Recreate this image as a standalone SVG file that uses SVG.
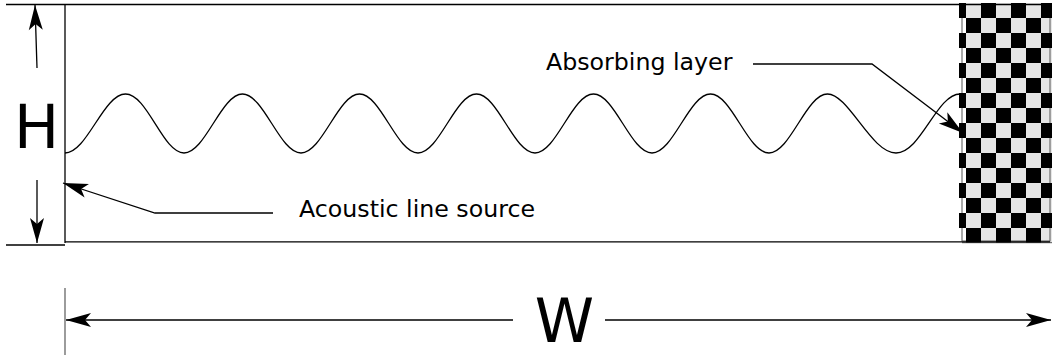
<svg xmlns="http://www.w3.org/2000/svg" width="1052" height="356" viewBox="0 0 1052 356">
<style>
.ln{fill:none;stroke:#000;stroke-width:1.3}
.gl{fill:none;stroke:#555;stroke-width:1}
.lbl{font-family:"DejaVu Sans","Liberation Sans",sans-serif;font-size:23.7px;fill:#000}
.big{font-family:"DejaVu Sans","Liberation Sans",sans-serif;font-size:60px;fill:#000;text-anchor:middle}
</style>
<defs>
<marker id="ah" viewBox="-26 -8 27 16" refX="0" refY="0" markerWidth="27" markerHeight="16" markerUnits="userSpaceOnUse" orient="auto">
<path d="M0,0 L-25,-7 L-19,0 L-25,7 Z" fill="#000"/>
</marker>
<pattern id="chk" patternUnits="userSpaceOnUse" x="951" y="3" width="30" height="30">
<rect x="0" y="0" width="15" height="15" fill="#000"/>
<rect x="15" y="15" width="15" height="15" fill="#000"/>
</pattern>
</defs>
<g id="absorbing-layer">
<rect x="966" y="3" width="86" height="240" fill="#e6e6e6"/>
<rect x="959" y="3" width="7" height="240" fill="#fff"/>
<rect x="962" y="4.5" width="88" height="236.5" class="gl"/>
<rect x="959" y="3" width="93" height="240" fill="url(#chk)"/>
<line x1="962" y1="242.7" x2="1052" y2="242.7" class="gl"/>
</g>
<g id="domain">
<line x1="6" y1="4.5" x2="1050" y2="4.5" class="ln"/>
<line x1="65" y1="4.5" x2="65" y2="243" class="ln"/>
<line x1="65" y1="241.8" x2="1050" y2="241.8" class="ln"/>
<line x1="6" y1="245" x2="65" y2="245" class="ln"/>
<line x1="65" y1="288" x2="65" y2="355" stroke="#666" stroke-width="1.3"/>
</g>
<g id="wave">
<path class="ln" d="M65,153 C87,153 103.5,94 125.5,94 S162.8,153 184,153 S221.3,94 242.5,94 S279.8,153 301,153 S338.3,94 359.5,94 S396.8,153 418,153 S455.3,94 476.5,94 S513.8,153 535,153 S572.3,94 593.5,94 S630.8,153 652,153 S689.3,94 710.5,94 S747.8,153 769,153 S806.3,94 827.5,94 S871.1,153 896,153 S936.8,94 960,94"/>
</g>
<g id="labels">
<text class="big" x="36.5" y="148">H</text>
<text class="big" x="564.5" y="342">W</text>
<text class="lbl" x="546" y="70">Absorbing layer</text>
<text class="lbl" x="299" y="217">Acoustic line source</text>
</g>
<g id="connectors">
<line x1="37" y1="68" x2="35" y2="5" class="ln" marker-end="url(#ah)"/>
<line x1="37" y1="180" x2="37" y2="243" class="ln" marker-end="url(#ah)"/>
<line x1="513" y1="320" x2="66" y2="320" class="ln" marker-end="url(#ah)"/>
<line x1="605" y1="320" x2="1051" y2="320" class="ln" marker-end="url(#ah)"/>
<polyline points="753,64 872,64 963,133" class="ln" marker-end="url(#ah)"/>
<polyline points="273,213 155,213 63,183" class="ln" marker-end="url(#ah)"/>
</g>
</svg>
